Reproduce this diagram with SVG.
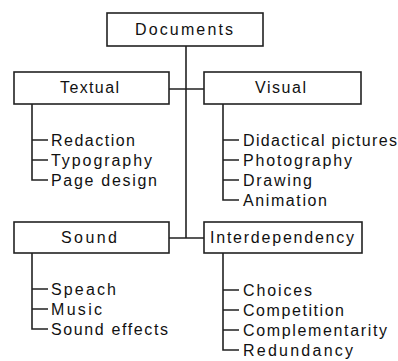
<svg xmlns="http://www.w3.org/2000/svg" width="398" height="361" viewBox="0 0 398 361">
<style>
.box{fill:#fff;stroke:#222;stroke-width:1.6}
.ln{fill:none;stroke:#222;stroke-width:1.6}
text{font-family:"Liberation Sans",Arial,sans-serif;font-size:16px;fill:#111}
.c{text-anchor:middle}
</style>
<rect width="398" height="361" fill="#fff"/>
<g id="connectors">
<path class="ln" d="M186 46V238M169 89H204M169 238H204"/>
<path class="ln" d="M32 104V180H48M32 140H48M32 160H48"/>
<path class="ln" d="M223 104V200H239M223 140H239M223 160H239M223 180H239"/>
<path class="ln" d="M32 253V329H48M32 289H48M32 309H48"/>
<path class="ln" d="M223 253V350H239M223 290H239M223 310H239M223 330H239"/>
</g>
<g id="documents"><rect class="box" x="107" y="13" width="156" height="33"/><text class="c" x="184" y="35" textLength="98" lengthAdjust="spacing">Documents</text></g>
<g id="textual"><rect class="box" x="14" y="72" width="155" height="32"/><text class="c" x="89.5" y="93" textLength="59" lengthAdjust="spacing">Textual</text></g>
<g id="visual"><rect class="box" x="204" y="72" width="157" height="32"/><text class="c" x="280.5" y="93" textLength="51" lengthAdjust="spacing">Visual</text></g>
<g id="sound"><rect class="box" x="14" y="222" width="155" height="31"/><text class="c" x="89" y="243" textLength="56" lengthAdjust="spacing">Sound</text></g>
<g id="interdependency"><rect class="box" x="204" y="222" width="158" height="31"/><text class="c" x="282" y="243" textLength="144" lengthAdjust="spacing">Interdependency</text></g>
<g id="textual-items">
<text x="51" y="146" textLength="84" lengthAdjust="spacing">Redaction</text>
<text x="51" y="166" textLength="101" lengthAdjust="spacing">Typography</text>
<text x="51" y="186" textLength="106" lengthAdjust="spacing">Page design</text>
</g>
<g id="visual-items">
<text x="243" y="146" textLength="154" lengthAdjust="spacing">Didactical pictures</text>
<text x="243" y="166" textLength="109" lengthAdjust="spacing">Photography</text>
<text x="243" y="186" textLength="69" lengthAdjust="spacing">Drawing</text>
<text x="243" y="206" textLength="84" lengthAdjust="spacing">Animation</text>
</g>
<g id="sound-items">
<text x="51" y="295" textLength="65" lengthAdjust="spacing">Speach</text>
<text x="51" y="315" textLength="51" lengthAdjust="spacing">Music</text>
<text x="51" y="335" textLength="117" lengthAdjust="spacing">Sound effects</text>
</g>
<g id="interdependency-items">
<text x="243" y="296" textLength="69" lengthAdjust="spacing">Choices</text>
<text x="243" y="316" textLength="101" lengthAdjust="spacing">Competition</text>
<text x="243" y="336" textLength="144" lengthAdjust="spacing">Complementarity</text>
<text x="243" y="356" textLength="110" lengthAdjust="spacing">Redundancy</text>
</g>
</svg>
